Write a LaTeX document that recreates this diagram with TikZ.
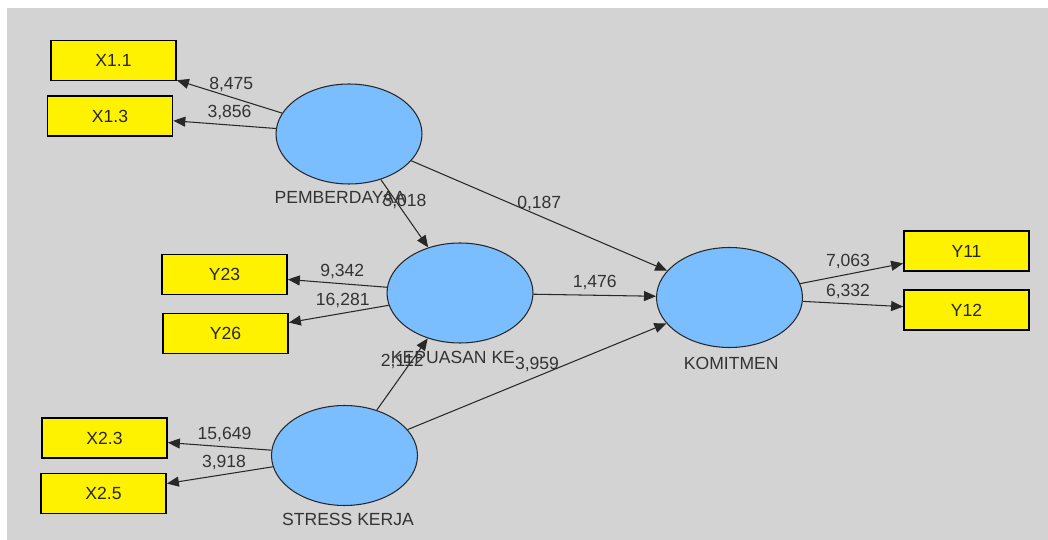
\documentclass[tikz,border=0pt]{standalone}
\usepackage{fontspec}
\setmainfont{Liberation Sans}
\usepackage{tikz}
\usetikzlibrary{shapes.geometric, positioning, calc, arrows.meta}

\definecolor{bggray}{RGB}{211,211,211}
\definecolor{lvblue}{RGB}{122,190,255}
\definecolor{inkgray}{RGB}{40,40,40}

\tikzset{
    latent/.style={ellipse, draw=inkgray, line width=0.6pt, fill=lvblue,
        minimum width=2.92cm, minimum height=2cm, inner sep=0pt},
    indicator/.style={rectangle, draw=black, line width=1pt, fill=yellow,
        minimum width=2.5cm, minimum height=0.8cm, inner sep=0pt, text=black!85},
    lvname/.style={inner sep=1pt, text=black!80},
    coef/.style={inner sep=0pt, yshift=0.25cm, text=black!80},
    link/.style={draw=inkgray, line width=0.6pt, -{Triangle[length=2.4mm, width=2mm]}}
}

\begin{document}
\begin{tikzpicture}[x=0.02cm, y=-0.02cm, font=\fontsize{10pt}{12pt}\selectfont]

        % canvas
        \useasboundingbox (0,0) rectangle (1048,540);
        \fill[white] (0,0) rectangle (1048,540);
        \fill[bggray] (7,8) rectangle (1048,540);

        % indicators
        \node[indicator] (x11) at (113.5,60.5) {X1.1};
        \node[indicator] (x13) at (110,116) {X1.3};
        \node[indicator] (y23) at (224.5,274.5) {Y23};
        \node[indicator] (y26) at (225.5,333.5) {Y26};
        \node[indicator] (x23) at (104.5,438) {X2.3};
        \node[indicator] (x25) at (103.5,493.5) {X2.5};
        \node[indicator] (y11) at (966.5,251) {Y11};
        \node[indicator] (y12) at (966.5,310) {Y12};

        % latent variables
        \node[latent] (pem) at (349,134) {};
        \node[latent] (kep) at (460,293) {};
        \node[latent] (str) at (344.5,455.5) {};
        \node[latent] (kom) at (729.5,297.5) {};

        % paths
        \draw[link] (pem) -- (x11);
        \draw[link] (pem) -- (x13);
        \draw[link] (pem) -- (kep);
        \draw[link] (pem) -- (kom);
        \draw[link] (kep) -- (y23);
        \draw[link] (kep) -- (y26);
        \draw[link] (kep) -- (kom);
        \draw[link] (str) -- (kep);
        \draw[link] (str) -- (kom);
        \draw[link] (str) -- (x23);
        \draw[link] (str) -- (x25);
        \draw[link] (kom) -- (y11);
        \draw[link] (kom) -- (y12);

        % names under the ellipses
        \node[lvname, below=3pt of pem, xshift=-5pt] (pemtxt) {PEMBERDAYAA};
        \node[lvname, below=3pt of kep, xshift=-4pt] (keptxt) {KEPUASAN KE};
        \node[lvname, below=3pt of str, xshift=2pt] (strtxt) {STRESS KERJA};
        \node[lvname, below=4pt of kom, xshift=1pt] (komtxt) {KOMITMEN};

        % t-values
        \node[coef] (c1) at ($(pem)!.5!(x11)$) {8,475};
        \node[coef] (c2) at ($(pem)!.5!(x13)$) {3,856};
        \node[coef] (c3) at ($(pem)!.5!(kep)$) {3,018};
        \node[coef] (c4) at ($(pem)!.5!(kom)$) {0,187};
        \node[coef] (c5) at ($(kep)!.5!(y23)$) {9,342};
        \node[coef] (c6) at ($(kep)!.5!(y26)$) {16,281};
        \node[coef] (c7) at ($(kep)!.5!(kom)$) {1,476};
        \node[coef] (c8) at ($(str)!.5!(kep)$) {2,112};
        \node[coef] (c9) at ($(str)!.5!(kom)$) {3,959};
        \node[coef] (c10) at ($(str)!.5!(x23)$) {15,649};
        \node[coef] (c11) at ($(str)!.5!(x25)$) {3,918};
        \node[coef] (c12) at ($(kom)!.5!(y11)$) {7,063};
        \node[coef] (c13) at ($(kom)!.5!(y12)$) {6,332};
\end{tikzpicture}
\end{document}
